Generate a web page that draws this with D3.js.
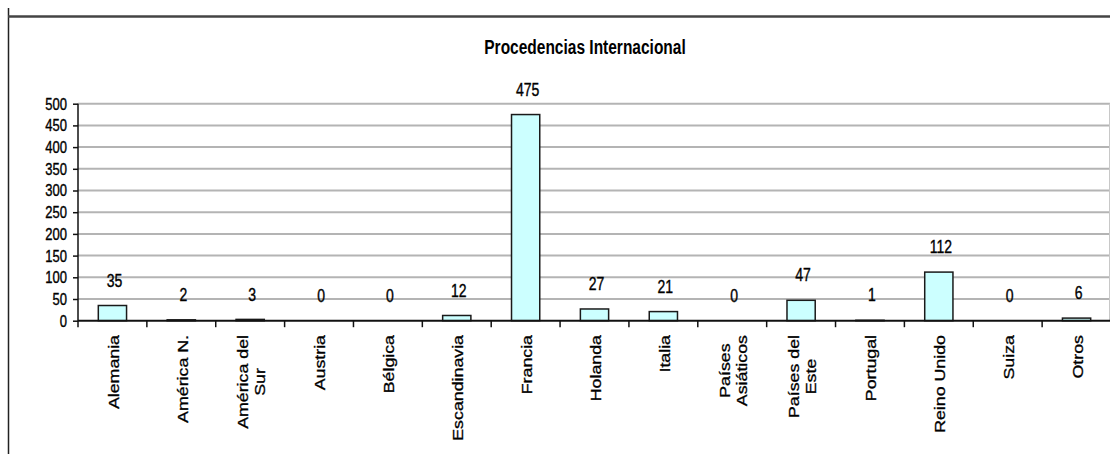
<!DOCTYPE html>
<html><head><meta charset="utf-8">
<script src="https://cdn.jsdelivr.net/npm/d3@7"></script>
<style>
html,body{margin:0;padding:0;background:#fff;}
svg{display:block;}
text{font-family:"Liberation Sans",Arial,sans-serif;fill:#000;stroke:#000;stroke-width:0.3px;}
</style></head>
<body>
<svg id="chart" width="1110" height="454"></svg>
<script>
const title = "Procedencias Internacional";
const categories = ["Alemania","América N.","América del\nSur","Austria","Bélgica","Escandinavia","Francia","Holanda","Italia","Países\nAsiáticos","Países del\nEste","Portugal","Reino Unido","Suiza","Otros"];
const values = [35,2,3,0,0,12,475,27,21,0,47,1,112,0,6];
const yTicks = [0,50,100,150,200,250,300,350,400,450,500];

const svg = d3.select("#chart");
const W = 1110, H = 454;
const stretch = 1.27;
const plot = {left:78, right:1111, top:103.7, bottom:320.7};

// outer frame
svg.append("line").attr("x1",8.5).attr("x2",8.5).attr("y1",8).attr("y2",H).attr("stroke","#222").attr("stroke-width",1.5);
svg.append("line").attr("x1",8).attr("x2",W).attr("y1",16.5).attr("y2",16.5).attr("stroke","#444").attr("stroke-width",2.5);

const x = d3.scaleBand().domain(categories).range([plot.left, plot.right]).padding(0);
const y = d3.scaleLinear().domain([0,500]).range([plot.bottom, plot.top]);

// gridlines
svg.append("g").selectAll("line").data(yTicks.filter(d=>d>0)).join("line")
  .attr("x1",plot.left).attr("x2",plot.right)
  .attr("y1",d=>y(d)).attr("y2",d=>y(d))
  .attr("stroke","#b4b4b4").attr("stroke-width",2);
// right border of plot
svg.append("line").attr("x1",1109.5).attr("x2",1109.5).attr("y1",plot.top).attr("y2",plot.bottom).attr("stroke","#c8c8c8").attr("stroke-width",1);

// title
svg.append("text").attr("transform",`translate(585,54) scale(1,${stretch})`)
  .attr("text-anchor","middle").attr("font-size",15.5).attr("font-weight","bold").style("stroke-width","0px").text(title);

// bars
const bw = x.bandwidth()*0.41;
svg.append("g").selectAll("rect").data(values).join("rect")
  .attr("x",(d,i)=>x(categories[i])+(x.bandwidth()-bw)/2)
  .attr("width",bw)
  .attr("y",d=>y(d))
  .attr("height",d=>y(0)-y(d))
  .attr("fill","#ccffff").attr("stroke","#1a1a1a").attr("stroke-width",1.5);

// y axis
const yAxis = d3.axisLeft(y).tickValues(yTicks).tickSize(5).tickPadding(6).tickSizeOuter(0);
const ga = svg.append("g").attr("transform",`translate(${plot.left},0)`).call(yAxis);
ga.select(".domain").remove();
ga.selectAll(".tick line").attr("stroke","#111").attr("stroke-width",1.5);
ga.selectAll(".tick text").attr("font-size",13).attr("font-family","Liberation Sans, Arial, sans-serif")
  .attr("fill","#000").attr("dy",null).attr("dominant-baseline","central")
  .each(function(){
    const t = d3.select(this);
    const xx = +t.attr("x");
    t.attr("x",null).attr("transform",`translate(${xx},0) scale(1,${stretch-0.05})`);
  });
svg.append("line").attr("x1",plot.left).attr("x2",plot.left).attr("y1",plot.top).attr("y2",plot.bottom+6.5).attr("stroke","#111").attr("stroke-width",1.5);

// x axis
svg.append("line").attr("x1",plot.left).attr("x2",plot.right).attr("y1",plot.bottom).attr("y2",plot.bottom).attr("stroke","#111").attr("stroke-width",2);
const bounds = categories.map(c=>x(c)).slice(1).concat([plot.right]);
svg.append("g").selectAll("line").data(bounds).join("line")
  .attr("x1",d=>d).attr("x2",d=>d).attr("y1",plot.bottom).attr("y2",plot.bottom+6.5)
  .attr("stroke","#111").attr("stroke-width",1.5);

// value labels
svg.append("g").selectAll("text").data(values).join("text")
  .attr("transform",(d,i)=>`translate(${x(categories[i])+x.bandwidth()/2+2},${y(d)-25}) scale(1,${stretch})`)
  .attr("text-anchor","middle").attr("dominant-baseline","central")
  .attr("font-size",14).text(d=>d);

// category labels
const labTop = 335, lineSp = 16.5;
categories.forEach((c,i)=>{
  const lines = c.split("\n");
  const g = svg.append("g").attr("transform",`translate(${x(c)+x.bandwidth()/2+1.5},${labTop})`);
  const ts = lines.map(l=>g.append("text").attr("font-size",14).attr("text-anchor","middle").attr("dominant-baseline","central").text(l));
  const L = d3.max(ts, t=>t.node().getComputedTextLength())*stretch;
  ts.forEach((t,j)=>{
    const dx = (j-(lines.length-1)/2)*lineSp;
    t.attr("transform",`translate(${dx},${L/2}) rotate(-90) scale(${stretch},1)`);
  });
});
</script>
</body></html>
